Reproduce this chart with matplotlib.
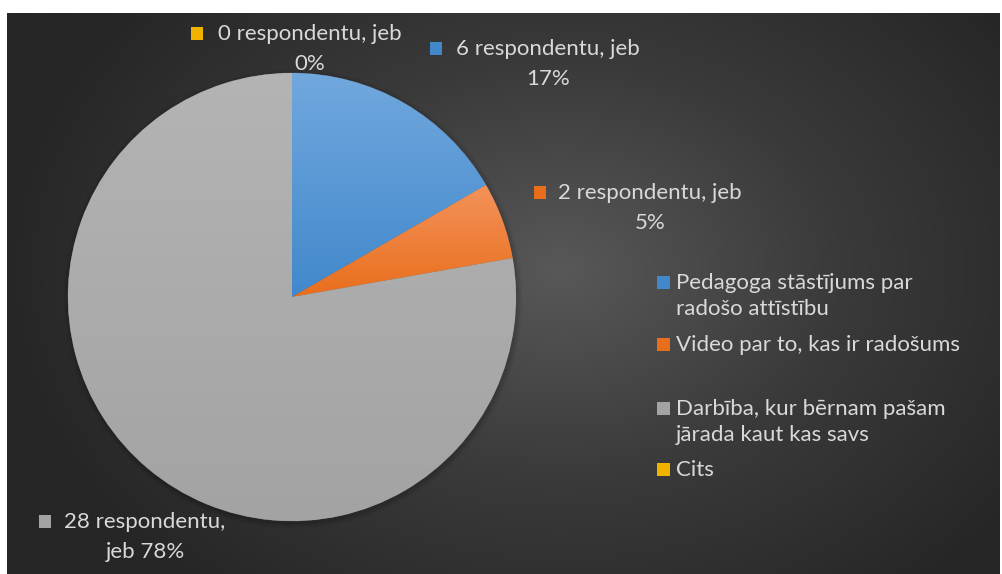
import numpy as np
import matplotlib
matplotlib.use("Agg")
import matplotlib.pyplot as plt
from matplotlib.patches import Rectangle
from matplotlib.colors import LinearSegmentedColormap

plt.rcParams["font.family"] = ["Lato", "DejaVu Sans"]

# data
categories = ["Pedagoga stāstījums par\nradošo attīstību",
              "Video par to, kas ir radošums",
              "Darbība, kur bērnam pašam\njārada kaut kas savs",
              "Cits"]
counts = [6, 2, 28, 0]
label_texts = ["6 respondentu, jeb\n17%",
               "2 respondentu, jeb\n5%",
               "28 respondentu,\njeb 78%",
               "0 respondentu, jeb\n0%"]

# (top colour, bottom colour) gradient for each slice
slice_grad = [("#71a8de", "#4188cb"),
              ("#f3935a", "#e96e1c"),
              ("#b4b4b4", "#a3a3a3"),
              ("#ffd24a", "#f0b400")]

W, H = 1003, 574
TEXT = "#d9d9d9"
FS = 16

fig = plt.figure(figsize=(W / 100, H / 100), dpi=100, facecolor="white")
ax = fig.add_axes([0, 0, 1, 1])


def py(y):
    return H - y


# radial dark background
bx0, bx1, by0, by1 = 7, 1000, 13, 574
gx, gy = np.meshgrid(np.linspace(bx0, bx1, 400), np.linspace(by0, by1, 240))
cx, cy = 560, 270
d = np.sqrt(((gx - cx) / 560) ** 2 + ((gy - cy) / 420) ** 2)
d = np.clip(d, 0, 1)
bg_cmap = LinearSegmentedColormap.from_list("bg", ["#585858", "#3a3a3a", "#262626"])
ax.imshow(d, cmap=bg_cmap, vmin=0, vmax=1, extent=[bx0, bx1, py(by1), py(by0)],
          origin="upper", interpolation="bilinear", zorder=0)

# pie
pc = (292, py(297))
R = 224

# soft shadow
for i, a in enumerate([0.06, 0.05, 0.04, 0.03]):
    sh = plt.Circle((pc[0] + 1, pc[1] - 2), R + 1 + i * 1.5, color="black",
                    alpha=a, zorder=1, lw=0)
    ax.add_patch(sh)

wedges, _ = ax.pie(counts, startangle=90, counterclock=False, center=pc,
                   radius=R, colors=[g[1] for g in slice_grad],
                   wedgeprops=dict(linewidth=0.4, edgecolor="#5a5a5a"),
                   frame=True)
ax.set_xlim(0, W)
ax.set_ylim(0, H)
ax.set_aspect("equal")
ax.axis("off")

for w, (ctop, cbot), n in zip(wedges, slice_grad, counts):
    w.set_zorder(2)
    if n == 0:
        continue
    bb = w.get_path().get_extents(w.get_transform() + ax.transData.inverted())
    grad = np.linspace(0, 1, 256).reshape(-1, 1)
    cm = LinearSegmentedColormap.from_list("g", [ctop, cbot])
    im = ax.imshow(grad, cmap=cm, extent=[bb.x0, bb.x1, bb.y0, bb.y1],
                   origin="upper", aspect="auto", zorder=3)
    im.set_clip_path(w)

# data labels: (x centre, y of first line, marker x)
label_pos = [(548, 48, 436), (650, 192, 540), (145, 521, 45), (310, 33, 197)]
for txt, (lx, ly, mx), (ctop, cbot) in zip(label_texts, label_pos, slice_grad):
    ax.text(lx, py(ly - 9), txt, ha="center", va="top", color=TEXT,
            fontsize=FS, linespacing=1.62, zorder=5)
    ax.add_patch(Rectangle((mx - 6, py(ly) - 7), 12, 13, facecolor=cbot,
                           edgecolor="none", zorder=5))

# legend
leg_y = [282, 344, 408, 469]
for cat, y, (ctop, cbot) in zip(categories, leg_y, slice_grad):
    ax.add_patch(Rectangle((657, py(y) - 7), 13, 13, facecolor=cbot,
                           edgecolor="none", zorder=5))
    ax.text(676, py(y - 9), cat, ha="left", va="top", color=TEXT, fontsize=FS,
            linespacing=1.38, zorder=5)

fig.savefig("out.png", dpi=100, facecolor="white")
